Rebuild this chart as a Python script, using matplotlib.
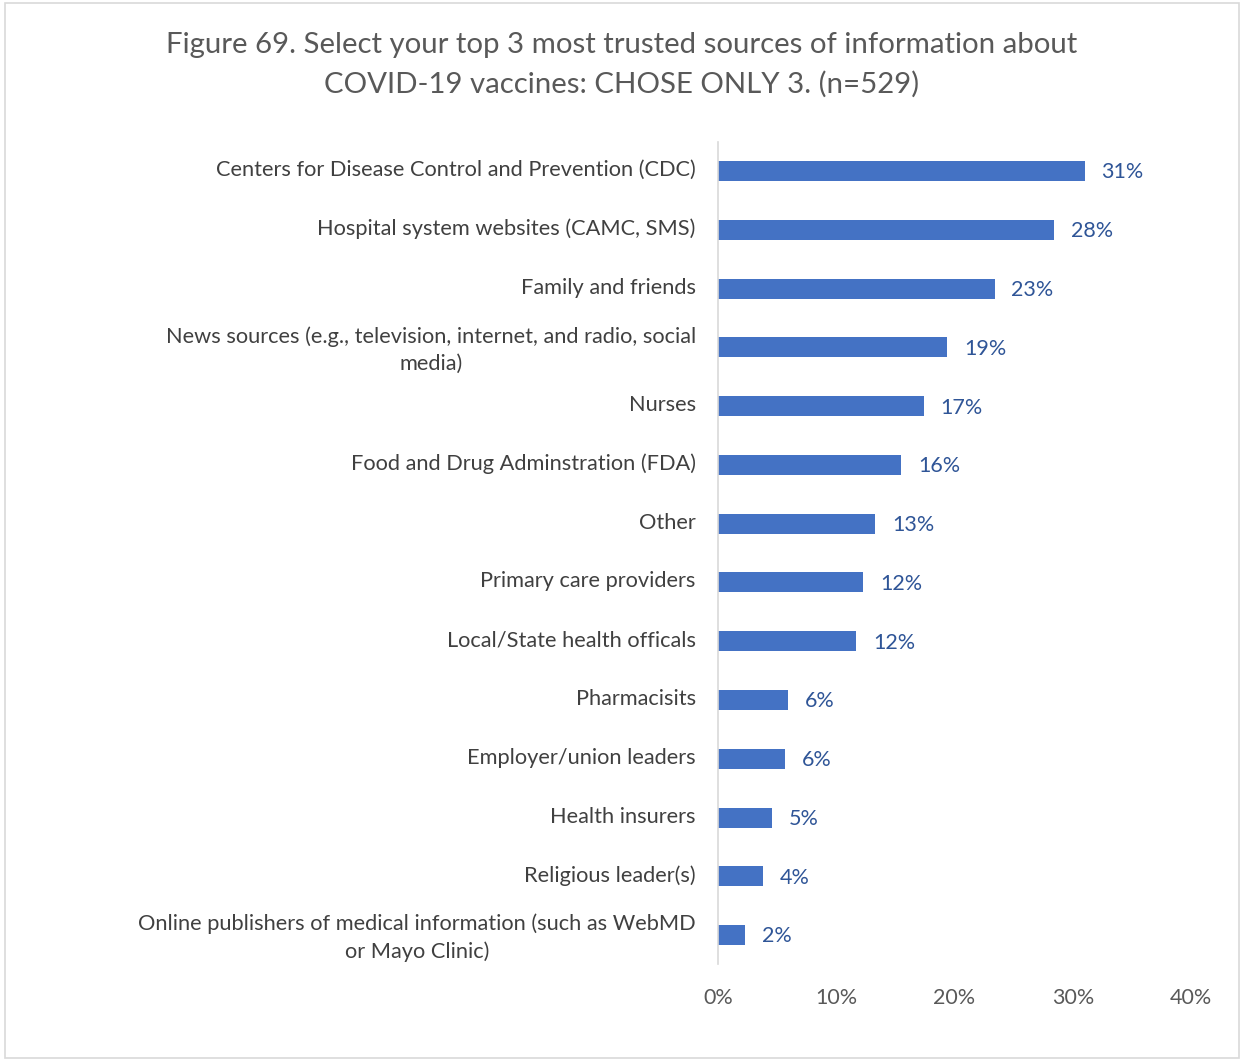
import matplotlib.pyplot as plt
import matplotlib.transforms as mtransforms
from matplotlib.patches import Rectangle

plt.rcParams['font.family'] = ['Lato', 'DejaVu Sans']

categories = [
    "Centers for Disease Control and Prevention (CDC)",
    "Hospital system websites (CAMC, SMS)",
    "Family and friends",
    "News sources (e.g., television, internet, and radio, social\nmedia)",
    "Nurses",
    "Food and Drug Adminstration (FDA)",
    "Other",
    "Primary care providers",
    "Local/State health officals",
    "Pharmacisits",
    "Employer/union leaders",
    "Health insurers",
    "Religious leader(s)",
    "Online publishers of medical information (such as WebMD\nor Mayo Clinic)",
]
values = [31.0, 28.4, 23.4, 19.4, 17.4, 15.5, 13.3, 12.3, 11.7, 5.9, 5.7, 4.6, 3.8, 2.3]
xticks = [0, 10, 20, 30, 40]

fig = plt.figure(figsize=(12.44, 10.61), dpi=100)
ax = fig.add_axes([0.5772, 0.0910, 0.3802, 0.7755])

y = list(range(len(categories)))
ax.barh(y, values, height=0.34, color='#4472C4')
for yi, v in zip(y, values):
    ax.annotate(f"{round(v)}%", (v, yi), xytext=(12, -1), textcoords='offset points',
                va='center', ha='left', fontsize=15.5, color='#2F5597')

ax.set_ylim(len(categories) - 0.5, -0.5)
ax.set_xlim(0, 40)
ax.set_yticks(y)
ax.set_yticklabels(categories, fontsize=15.7, color='#404040',
                   multialignment='center', linespacing=1.42)
ax.set_xticks(xticks)
ax.set_xticklabels([f"{t}%" for t in xticks], fontsize=15.5, color='#595959')
ax.tick_params(axis='both', length=0)
ax.tick_params(axis='y', pad=16)
ax.tick_params(axis='x', pad=17)
for s in ['top', 'right', 'bottom']:
    ax.spines[s].set_visible(False)
ax.spines['left'].set_color('#D9D9D9')
ax.spines['left'].set_linewidth(1.2)

# nudge category labels up a little, like the reference
shift = mtransforms.ScaledTranslation(0, 3 / 100, fig.dpi_scale_trans)
for lab in ax.get_yticklabels():
    lab.set_transform(lab.get_transform() + shift)

fig.text(0.5, 0.97, "Figure 69. Select your top 3 most trusted sources of information about\nCOVID-19 vaccines: CHOSE ONLY 3. (n=529)",
         ha='center', va='top', fontsize=21.2, color='#595959', linespacing=1.58)

fig.patches.append(Rectangle((0.004, 0.003), 0.992, 0.994, transform=fig.transFigure,
                             fill=False, edgecolor='#D9D9D9', linewidth=1.2))

fig.savefig('out.png', dpi=100)
